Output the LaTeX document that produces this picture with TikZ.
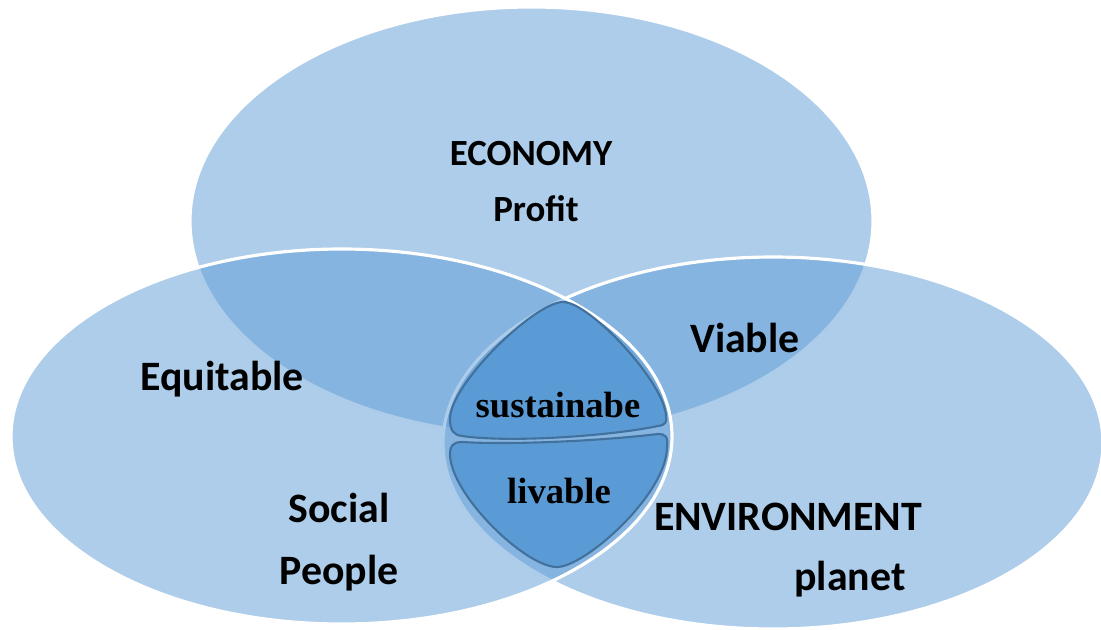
\documentclass[tikz,border=0pt]{standalone}
\usepackage{fontspec}
\setmainfont{Carlito}
\newfontfamily\serifbold{Liberation Serif}
\definecolor{ringblue}{HTML}{5B9BD5}
\definecolor{lensedge}{HTML}{41719C}

\begin{document}
\begin{tikzpicture}[
  ring/.style={fill=ringblue,fill opacity=0.5,draw=white,line width=0.9pt},
  lens/.style={fill=ringblue,draw=lensedge,line width=0.6pt},
  label/.style={anchor=base,font=\fontsize{11.9}{14}\selectfont\bfseries},
  small label/.style={anchor=base,font=\fontsize{10.5}{12}\selectfont\bfseries},
  lens label/.style={anchor=base,font=\serifbold\fontsize{10.4}{12}\selectfont\bfseries}]
 \useasboundingbox (0,0) rectangle (11.01,6.29);
 % the three pillars
 \draw[ring] (5.315,4.08) ellipse [x radius=3.415, y radius=2.14];
 \draw[ring] (7.73,1.86) ellipse [x radius=3.30, y radius=1.86];
 \draw[ring] (3.415,1.925) ellipse [x radius=3.305, y radius=1.875];
 % centre: upper half
 \draw[lens] (5.63,3.27)
   .. controls (5.35,3.27) and (4.50,2.45) .. (4.50,2.10)
   .. controls (4.50,1.98) and (4.54,1.94) .. (4.62,1.93)
   .. controls (5.10,1.86) and (6.10,1.93) .. (6.58,2.03)
   .. controls (6.66,2.04) and (6.67,2.08) .. (6.66,2.12)
   .. controls (6.66,2.45) and (5.90,3.27) .. (5.63,3.27) -- cycle;
 % centre: lower half
 \draw[lens] (5.57,0.62)
   .. controls (5.85,0.62) and (6.67,1.35) .. (6.67,1.82)
   .. controls (6.68,1.92) and (6.66,1.95) .. (6.58,1.95)
   .. controls (6.00,1.88) and (5.10,1.84) .. (4.62,1.87)
   .. controls (4.52,1.87) and (4.50,1.82) .. (4.50,1.75)
   .. controls (4.50,1.35) and (5.25,0.62) .. (5.57,0.62) -- cycle;
 % texts
 \node[small label] (econ) at (5.31,4.64) {ECONOMY};
 \node[small label] (profit) at (5.36,4.07) {Profit};
 \node[label] (viable) at (7.45,2.77) {Viable};
 \node[label] (equit) at (2.22,2.39) {Equitable};
 \node[label] (social) at (3.39,1.07) {Social};
 \node[label] (people) at (3.39,0.45) {People};
 \node[label] (env) at (7.88,0.99) {ENVIRONMENT};
 \node[label] (planet) at (8.50,0.39) {planet};
 \node[lens label] (sust) at (5.58,2.12) {sustainabe};
 \node[lens label] (liv) at (5.59,1.26) {livable};
\end{tikzpicture}
\end{document}
